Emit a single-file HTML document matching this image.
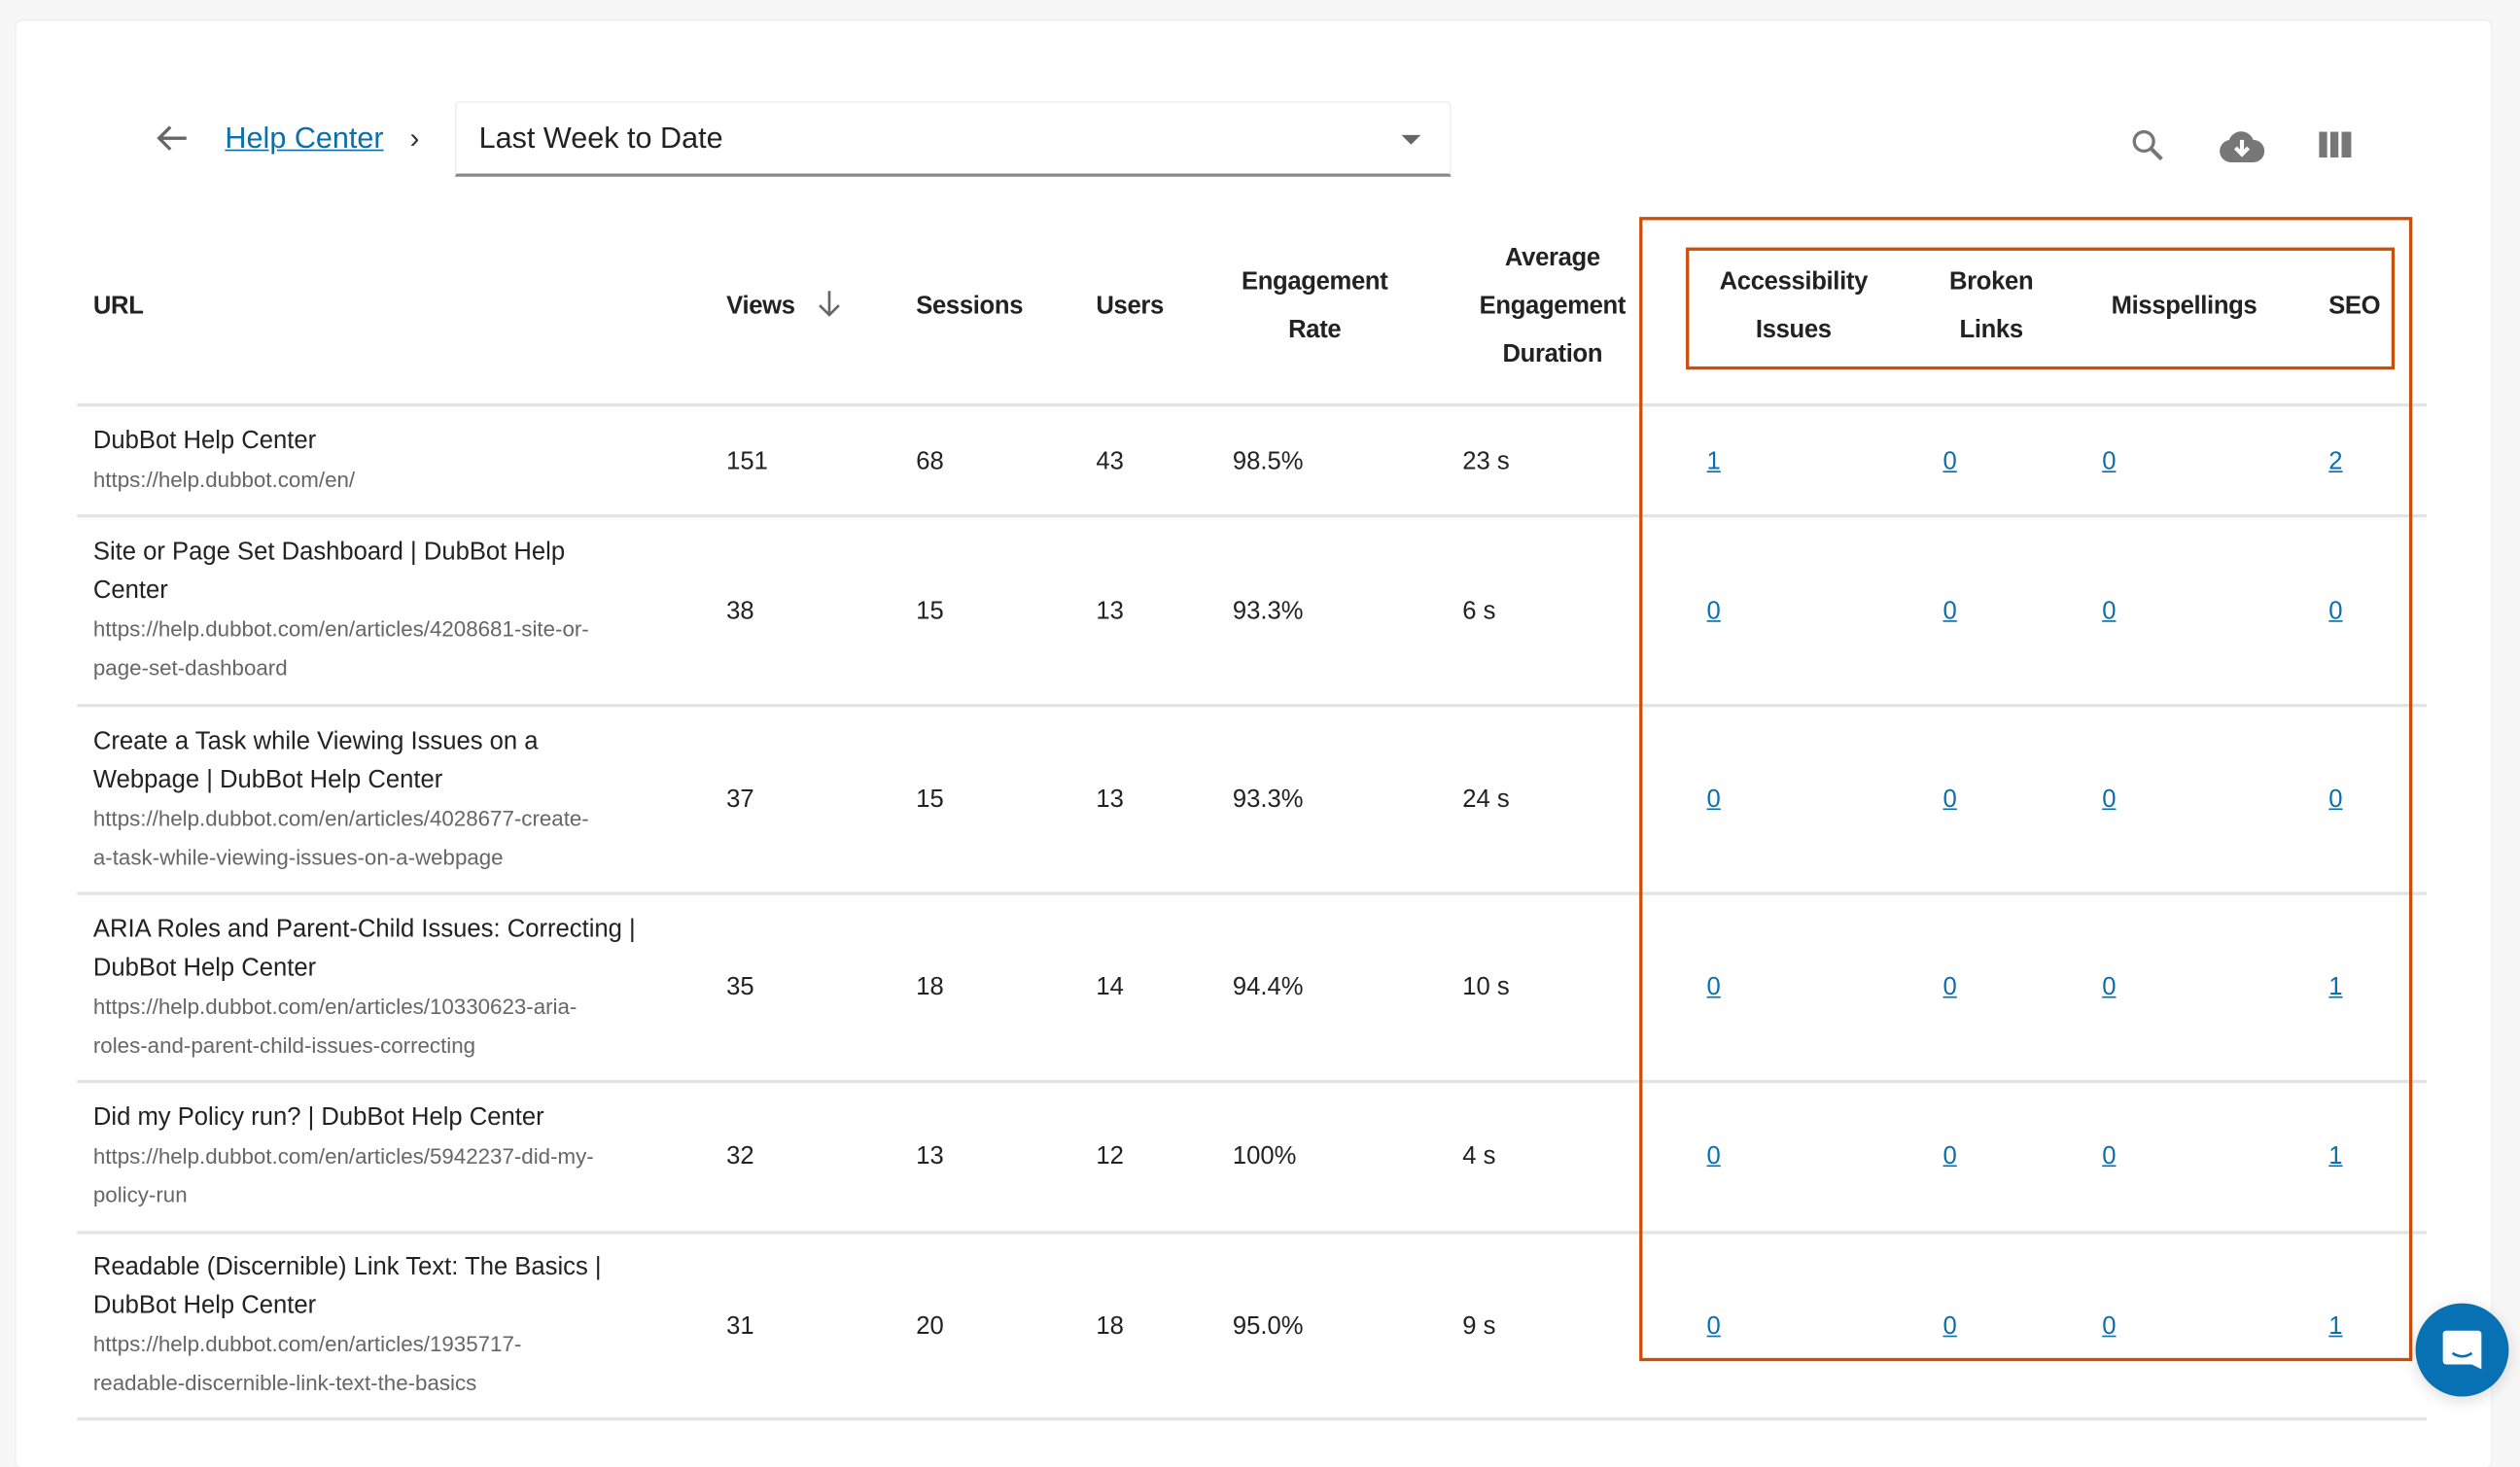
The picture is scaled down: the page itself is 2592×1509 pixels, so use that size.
<!DOCTYPE html>
<html><head><meta charset="utf-8"><style>
html,body{margin:0;padding:0;}
body{width:2592px;height:1476px;overflow:hidden;background:#f7f7f7;font-family:"Liberation Sans",sans-serif;}
#s{position:absolute;left:0;top:0;width:1568px;height:893px;transform:scale(1.65306);transform-origin:0 0;}
.card{position:absolute;left:10px;top:13px;width:1540px;height:900px;background:#fff;border-radius:4px;box-shadow:0 0 2px rgba(0,0,0,0.08);}
.a{position:absolute;white-space:nowrap;line-height:24px;}
.h{font-size:15.5px;color:#222;font-weight:bold;letter-spacing:-0.2px;line-height:30px;}
.t{font-size:15.5px;color:#222;}
.u{font-size:13.5px;color:#666;}
.l{font-size:15.5px;color:#0a6fab;text-decoration:underline;}
.c{transform:translateX(-50%);text-align:center;}
.line{position:absolute;left:48px;width:1462px;height:2px;background:#e3e3e3;}
.ob{position:absolute;border:2.5px solid #cc4e0b;}
</style></head><body><div id="s">
<div class="card"></div>
<svg class="a" style="left:95px;top:76px" width="24" height="20" viewBox="0 0 24 20"><path d="M21 10H4M11 3L4 10l7 7" stroke="#666" stroke-width="2" fill="none"/></svg>
<div class="a" style="left:140px;top:74px;font-size:18.5px;color:#0a6fab;text-decoration:underline">Help Center</div>
<div class="a" style="left:255px;top:74px;font-size:18px;color:#333">›</div>
<div style="position:absolute;left:283px;top:63px;width:618px;height:44px;border:1px solid #eee;border-bottom:2px solid #888;border-radius:3px 3px 0 0"></div>
<div class="a" style="left:298px;top:74px;font-size:18.5px;color:#222">Last Week to Date</div>
<div style="position:absolute;left:872px;top:84px;width:0;height:0;border-left:6px solid transparent;border-right:6px solid transparent;border-top:6px solid #666"></div>
<svg class="a" style="left:1325px;top:79px" width="24" height="24" viewBox="0 0 24 24"><circle cx="9" cy="9" r="6" stroke="#777" stroke-width="2" fill="none"/><path d="M13.5 13.5L20 20" stroke="#777" stroke-width="2.5"/></svg>
<svg class="a" style="left:1380px;top:79px" width="30" height="24" viewBox="0 0 30 24"><path d="M8 22a7 7 0 0 1-1-13.9A8 8 0 0 1 22 8a6 6 0 0 1 0 14z" fill="#777"/><path d="M15 8v8M11 13l4 4 4-4" stroke="#fff" stroke-width="2.5" fill="none"/></svg>
<div style="position:absolute;left:1443px;top:82px;width:5px;height:16px;background:#777"></div>
<div style="position:absolute;left:1450px;top:82px;width:5px;height:16px;background:#777"></div>
<div style="position:absolute;left:1457px;top:82px;width:6px;height:16px;background:#777"></div>

<div class="a h" style="left:58px;top:176px">URL</div>
<div class="a h" style="left:452px;top:176px">Views</div>
<svg class="a" style="left:508px;top:180px" width="16" height="18" viewBox="0 0 16 18"><path d="M8 1v15M2 10l6 6 6-6" stroke="#666" stroke-width="1.6" fill="none"/></svg>
<div class="a h" style="left:570px;top:176px">Sessions</div>
<div class="a h" style="left:682px;top:176px">Users</div>
<div class="a h c" style="left:818px;top:161px">Engagement<br>Rate</div>
<div class="a h c" style="left:966px;top:146px">Average<br>Engagement<br>Duration</div>
<div class="a h c" style="left:1116px;top:161px">Accessibility<br>Issues</div>
<div class="a h c" style="left:1239px;top:161px">Broken<br>Links</div>
<div class="a h c" style="left:1359px;top:176px">Misspellings</div>
<div class="a h c" style="left:1465px;top:176px">SEO</div>

<div class="line" style="top:251px"></div>
<div class="line" style="top:320px"></div>
<div class="line" style="top:438px"></div>
<div class="line" style="top:555px"></div>
<div class="line" style="top:672px"></div>
<div class="line" style="top:766px"></div>
<div class="line" style="top:882px"></div>

<div class="a" style="left:58px;top:263px"><div class="t">DubBot Help Center</div><div class="u">https://help.dubbot.com/en/</div></div>
<div class="a" style="left:58px;top:332px"><div class="t">Site or Page Set Dashboard | DubBot Help<br>Center</div><div class="u">https://help.dubbot.com/en/articles/4208681-site-or-<br>page-set-dashboard</div></div>
<div class="a" style="left:58px;top:450px"><div class="t">Create a Task while Viewing Issues on a<br>Webpage | DubBot Help Center</div><div class="u">https://help.dubbot.com/en/articles/4028677-create-<br>a-task-while-viewing-issues-on-a-webpage</div></div>
<div class="a" style="left:58px;top:567px"><div class="t">ARIA Roles and Parent-Child Issues: Correcting |<br>DubBot Help Center</div><div class="u">https://help.dubbot.com/en/articles/10330623-aria-<br>roles-and-parent-child-issues-correcting</div></div>
<div class="a" style="left:58px;top:684px"><div class="t">Did my Policy run? | DubBot Help Center</div><div class="u">https://help.dubbot.com/en/articles/5942237-did-my-<br>policy-run</div></div>
<div class="a" style="left:58px;top:777px"><div class="t">Readable (Discernible) Link Text: The Basics |<br>DubBot Help Center</div><div class="u">https://help.dubbot.com/en/articles/1935717-<br>readable-discernible-link-text-the-basics</div></div>

<div class="a t" style="left:452px;top:276px">151</div><div class="a t" style="left:570px;top:276px">68</div><div class="a t" style="left:682px;top:276px">43</div><div class="a t" style="left:767px;top:276px">98.5%</div><div class="a t" style="left:910px;top:276px">23 s</div>
<div class="a l" style="left:1062px;top:276px">1</div><div class="a l" style="left:1209px;top:276px">0</div><div class="a l" style="left:1308px;top:276px">0</div><div class="a l" style="left:1449px;top:276px">2</div>

<div class="a t" style="left:452px;top:369px">38</div><div class="a t" style="left:570px;top:369px">15</div><div class="a t" style="left:682px;top:369px">13</div><div class="a t" style="left:767px;top:369px">93.3%</div><div class="a t" style="left:910px;top:369px">6 s</div>
<div class="a l" style="left:1062px;top:369px">0</div><div class="a l" style="left:1209px;top:369px">0</div><div class="a l" style="left:1308px;top:369px">0</div><div class="a l" style="left:1449px;top:369px">0</div>

<div class="a t" style="left:452px;top:486px">37</div><div class="a t" style="left:570px;top:486px">15</div><div class="a t" style="left:682px;top:486px">13</div><div class="a t" style="left:767px;top:486px">93.3%</div><div class="a t" style="left:910px;top:486px">24 s</div>
<div class="a l" style="left:1062px;top:486px">0</div><div class="a l" style="left:1209px;top:486px">0</div><div class="a l" style="left:1308px;top:486px">0</div><div class="a l" style="left:1449px;top:486px">0</div>

<div class="a t" style="left:452px;top:603px">35</div><div class="a t" style="left:570px;top:603px">18</div><div class="a t" style="left:682px;top:603px">14</div><div class="a t" style="left:767px;top:603px">94.4%</div><div class="a t" style="left:910px;top:603px">10 s</div>
<div class="a l" style="left:1062px;top:603px">0</div><div class="a l" style="left:1209px;top:603px">0</div><div class="a l" style="left:1308px;top:603px">0</div><div class="a l" style="left:1449px;top:603px">1</div>

<div class="a t" style="left:452px;top:708px">32</div><div class="a t" style="left:570px;top:708px">13</div><div class="a t" style="left:682px;top:708px">12</div><div class="a t" style="left:767px;top:708px">100%</div><div class="a t" style="left:910px;top:708px">4 s</div>
<div class="a l" style="left:1062px;top:708px">0</div><div class="a l" style="left:1209px;top:708px">0</div><div class="a l" style="left:1308px;top:708px">0</div><div class="a l" style="left:1449px;top:708px">1</div>

<div class="a t" style="left:452px;top:814px">31</div><div class="a t" style="left:570px;top:814px">20</div><div class="a t" style="left:682px;top:814px">18</div><div class="a t" style="left:767px;top:814px">95.0%</div><div class="a t" style="left:910px;top:814px">9 s</div>
<div class="a l" style="left:1062px;top:814px">0</div><div class="a l" style="left:1209px;top:814px">0</div><div class="a l" style="left:1308px;top:814px">0</div><div class="a l" style="left:1449px;top:814px">1</div>

<div class="ob" style="left:1020px;top:135px;width:477px;height:708px"></div>
<div class="ob" style="left:1049px;top:154px;width:437px;height:72px"></div>

<div style="position:absolute;left:1503px;top:811px;width:58px;height:58px;border-radius:50%;background:#0771b3;box-shadow:0 2px 10px rgba(0,0,0,0.15)"></div>
<svg class="a" style="left:1518px;top:826px" width="28" height="28" viewBox="0 0 28 28"><path d="M4 2h20a2 2 0 0 1 2 2v22l-6-3H4a2 2 0 0 1-2-2V4a2 2 0 0 1 2-2z" fill="#fff"/><path d="M8 16q6 4 12 0" stroke="#0771b3" stroke-width="1.6" fill="none"/></svg>
</div></body></html>
